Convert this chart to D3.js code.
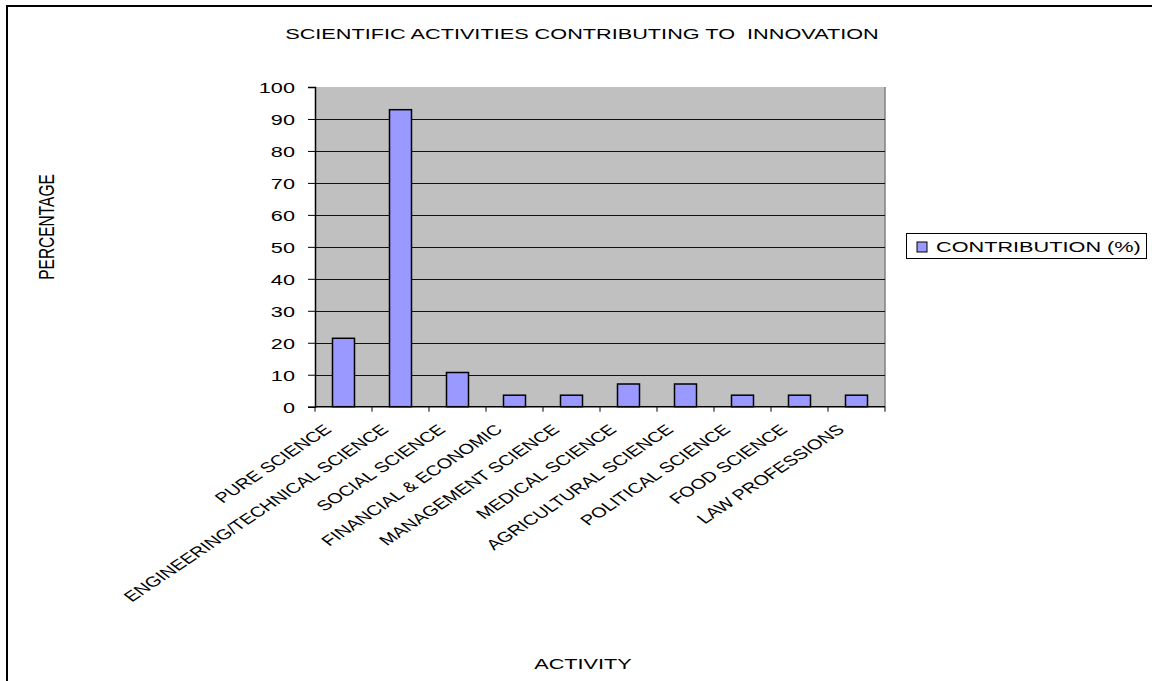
<!DOCTYPE html>
<html>
<head>
<meta charset="utf-8">
<script src="https://cdn.jsdelivr.net/npm/d3@7"></script>
<style>
  html, body { margin: 0; padding: 0; background: #fff; }
  svg { display: block; }
  text { font-family: "Liberation Sans", Arial, sans-serif; fill: #000; white-space: pre; }
</style>
</head>
<body>
<svg id="chart" width="1152" height="681"></svg>
<script>
// Activities and their share of the contribution to innovation (%)
const categories = [
  "PURE SCIENCE",
  "ENGINEERING/TECHNICAL SCIENCE",
  "SOCIAL SCIENCE",
  "FINANCIAL & ECONOMIC",
  "MANAGEMENT SCIENCE",
  "MEDICAL SCIENCE",
  "AGRICULTURAL SCIENCE",
  "POLITICAL SCIENCE",
  "FOOD SCIENCE",
  "LAW PROFESSIONS"
];
const contribution = [21.4, 92.9, 10.7, 3.6, 3.6, 7.1, 7.1, 3.6, 3.6, 3.6];
const yTicks = [0, 10, 20, 30, 40, 50, 60, 70, 80, 90, 100];
const seriesName = "CONTRIBUTION (%)";
const chartTitle = "SCIENTIFIC ACTIVITIES CONTRIBUTING TO  INNOVATION";
const xTitle = "ACTIVITY";
const yTitle = "PERCENTAGE";

// Text is drawn widened horizontally, like the rest of the sheet
const SX = 1.4;
const FONT = 15.5;
const LABEL_FONT = 14.3;

const svg = d3.select("#chart");

// Outer chart frame (runs off the right and bottom edges)
svg.append("rect")
  .attr("x", 7).attr("y", 6)
  .attr("width", 1300).attr("height", 800)
  .attr("fill", "#fff")
  .attr("stroke", "#000")
  .attr("stroke-width", 2);

const plot = { left: 315, right: 885, top: 87, bottom: 406.7 };

const x = d3.scaleBand()
  .domain(categories)
  .range([plot.left, plot.right])
  .paddingInner(0.614)
  .paddingOuter(0.307);

const y = d3.scaleLinear()
  .domain([0, 100])
  .range([plot.bottom, plot.top]);

// Plot background
svg.append("rect")
  .attr("x", plot.left).attr("y", plot.top)
  .attr("width", plot.right - plot.left)
  .attr("height", plot.bottom - plot.top)
  .attr("fill", "#c0c0c0");

// Right edge of the plot area
svg.append("line")
  .attr("x1", plot.right).attr("x2", plot.right)
  .attr("y1", plot.top).attr("y2", plot.bottom)
  .attr("stroke", "#808080").attr("stroke-width", 1.5);

// Horizontal gridlines
svg.append("g")
  .selectAll("line")
  .data(yTicks.filter(t => t > 0 && t < 100))
  .join("line")
  .attr("x1", plot.left).attr("x2", plot.right)
  .attr("y1", d => Math.round(y(d)) + 0.5)
  .attr("y2", d => Math.round(y(d)) + 0.5)
  .attr("stroke", "#111").attr("stroke-width", 1);

// Bars
svg.append("g")
  .selectAll("rect")
  .data(categories.map((c, i) => ({ c, v: contribution[i] })))
  .join("rect")
  .attr("x", d => x(d.c))
  .attr("y", d => y(d.v))
  .attr("width", x.bandwidth())
  .attr("height", d => y(0) - y(d.v))
  .attr("fill", "#9999ff")
  .attr("stroke", "#000")
  .attr("stroke-width", 1.5);

// Y axis
const yAxis = svg.append("g")
  .attr("transform", `translate(${plot.left},0)`)
  .call(d3.axisLeft(y).tickValues(yTicks).tickSize(7).tickPadding(0).tickFormat(d3.format("d")));
yAxis.select(".domain").attr("stroke", "#000").attr("stroke-width", 1.5);
yAxis.selectAll(".tick line").attr("stroke", "#000");
yAxis.selectAll(".tick text")
  .attr("x", null).attr("dy", null)
  .attr("font-size", FONT)
  .attr("font-family", "Liberation Sans, Arial, sans-serif")
  .attr("text-anchor", "end")
  .attr("dominant-baseline", "central")
  .attr("transform", `translate(-20,0) scale(${SX},1)`);

// X axis line and category boundary ticks
const xAxisG = svg.append("g");
xAxisG.append("line")
  .attr("x1", plot.left).attr("x2", plot.right)
  .attr("y1", plot.bottom).attr("y2", plot.bottom)
  .attr("stroke", "#000").attr("stroke-width", 1.5);
const boundaries = d3.range(categories.length + 1).map(i => plot.left + i * x.step());
xAxisG.selectAll("line.tick")
  .data(boundaries)
  .join("line")
  .attr("class", "tick")
  .attr("x1", d => d).attr("x2", d => d)
  .attr("y1", plot.bottom).attr("y2", plot.bottom + 5)
  .attr("stroke", "#000").attr("stroke-width", 1);

// Rotated category labels
xAxisG.selectAll("text")
  .data(categories)
  .join("text")
  .attr("font-size", LABEL_FONT)
  .attr("text-anchor", "end")
  .attr("transform", d => `translate(${x(d) + x.bandwidth() / 2 - 11},${plot.bottom + 24}) scale(${SX},1) rotate(-43)`)
  .text(d => d);

// Title
svg.append("text")
  .attr("font-size", FONT)
  .attr("text-anchor", "middle")
  .attr("transform", `translate(582,39) scale(${SX},1)`)
  .text(chartTitle);

// Axis titles
svg.append("text")
  .attr("font-size", FONT)
  .attr("text-anchor", "middle")
  .attr("transform", `translate(583,669) scale(${SX},1)`)
  .text(xTitle);

svg.append("text")
  .attr("font-size", FONT)
  .attr("text-anchor", "middle")
  .attr("transform", `translate(54,227) scale(${SX},1) rotate(-90)`)
  .text(yTitle);

// Legend
const legend = svg.append("g");
legend.append("rect")
  .attr("x", 906.5).attr("y", 233.5)
  .attr("width", 240).attr("height", 25)
  .attr("fill", "#fff")
  .attr("stroke", "#000").attr("stroke-width", 1);
legend.append("rect")
  .attr("x", 917).attr("y", 242)
  .attr("width", 10).attr("height", 10)
  .attr("fill", "#9999ff")
  .attr("stroke", "#000").attr("stroke-width", 1);
legend.append("text")
  .attr("font-size", FONT)
  .attr("transform", `translate(936,252) scale(${SX},1)`)
  .text(seriesName);
</script>
</body>
</html>
